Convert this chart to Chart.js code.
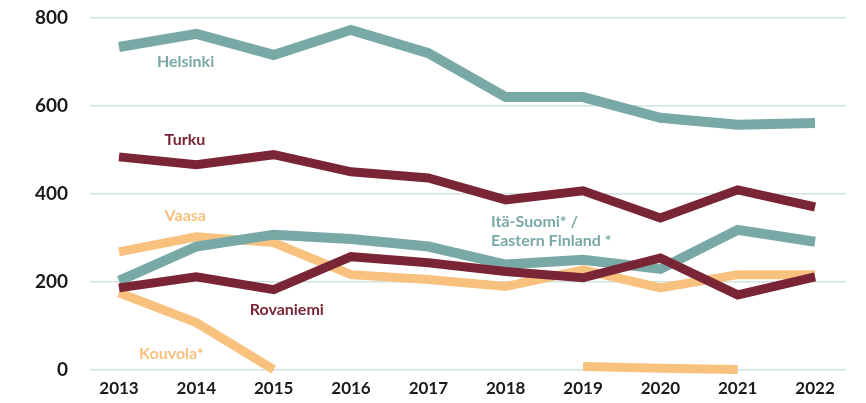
<!DOCTYPE html>
<html>
<head>
<meta charset="utf-8">
<script src="https://cdn.jsdelivr.net/npm/chart.js@4.4.1/dist/chart.umd.min.js"></script>
<style>
  html, body { margin: 0; padding: 0; background: #fff; }
  #wrap { width: 866px; height: 403px; }
</style>
</head>
<body>
<div id="wrap"><canvas id="myChart" width="866" height="403"></canvas></div>
<script>
var years = [2013, 2014, 2015, 2016, 2017, 2018, 2019, 2020, 2021, 2022];
var yTicks = [0, 200, 400, 600, 800];

var helsinki   = [734, 764, 716, 773, 720, 620, 620, 573, 557, 561];
var turku      = [484, 466, 489, 450, 436, 386, 407, 345, 409, 370];
var itaSuomi   = [202, 280, 307, 297, 280, 239, 250, 229, 318, 291];
var vaasa      = [268, 302, 289, 216, 205, 189, 227, 186, 216, 216];
var rovaniemi  = [186, 211, 182, 257, 243, 223, 209, 254, 170, 211];
var kouvola    = [175, 107, 0, null, null, null, 7, 3, 0, null];

// inline labels: [text, year, value, colour]
var TEAL = '#79a9a7', RED = '#7a2536', ORANGE = '#f8c17d';
var seriesLabels = [
    ['Helsinki', 2013.49, 700, TEAL],
    ['Turku', 2013.59, 523, RED],
    ['Vaasa', 2013.59, 350, ORANGE],
    ['Rovaniemi', 2014.69, 136, RED],
    ['Kouvola*', 2013.26, 36, ORANGE],
    ['Itä-Suomi* /', 2017.81, 336, TEAL],
    ['Eastern Finland *', 2017.81, 293, TEAL]
];

function pts(vals) {
    return years.map(function (yr, i) { return { x: yr, y: vals[i] }; });
}

function line(label, vals, color, w) {
    return {
        label: label,
        data: pts(vals),
        borderColor: color,
        backgroundColor: color,
        borderWidth: w,
        borderCapStyle: 'butt',
        borderJoinStyle: 'miter',
        pointRadius: 0,
        tension: 0,
        spanGaps: false,
        clip: false
    };
}

var labelPlugin = {
    id: 'seriesLabels',
    afterDatasetsDraw: function (chart) {
        var c = chart.ctx, xs = chart.scales.x, ys = chart.scales.y;
        c.save();
        c.font = 'bold 16px Lato';
        c.textAlign = 'left';
        c.textBaseline = 'middle';
        seriesLabels.forEach(function (l) {
            c.fillStyle = l[3];
            c.fillText(l[0], xs.getPixelForValue(l[1]), ys.getPixelForValue(l[2]));
        });
        c.restore();
    }
};

var ctx = document.getElementById('myChart').getContext('2d');
var myChart = new Chart(ctx, {
    type: 'line',
    data: {
        datasets: [
            line('Rovaniemi', rovaniemi, RED, 9),
            line('Turku', turku, RED, 9),
            line('Itä-Suomi', itaSuomi, TEAL, 10),
            line('Helsinki', helsinki, TEAL, 10),
            line('Vaasa', vaasa, ORANGE, 9),
            line('Kouvola', kouvola, ORANGE, 9)
        ]
    },
    options: {
        responsive: false,
        animation: false,
        layout: { padding: { left: 13, right: 20, top: 18, bottom: -7 } },
        plugins: { legend: { display: false }, tooltip: { enabled: false } },
        scales: {
            x: {
                type: 'linear',
                min: 2012.626,
                max: 2022.40,
                afterBuildTicks: function (axis) {
                    axis.ticks = years.map(function (v) { return { value: v }; });
                },
                grid: { display: false, drawTicks: false },
                border: { display: false },
                ticks: {
                    callback: function (v) { return String(v); },
                    color: '#1a1a1a',
                    font: { family: 'Lato', size: 17, weight: 'bold' },
                    padding: 9,
                    maxRotation: 0,
                    autoSkip: false
                }
            },
            y: {
                min: 0,
                max: 800,
                afterBuildTicks: function (axis) {
                    axis.ticks = yTicks.map(function (v) { return { value: v }; });
                },
                afterFit: function (axis) { axis.paddingTop = 0; },
                grid: { color: '#cfe4e2', lineWidth: 1.5, drawTicks: false },
                border: { display: false },
                ticks: {
                    color: '#1a1a1a',
                    font: { family: 'Lato', size: 19, weight: 'bold' },
                    padding: 22
                }
            }
        }
    },
    plugins: [labelPlugin]
});
</script>
</body>
</html>
